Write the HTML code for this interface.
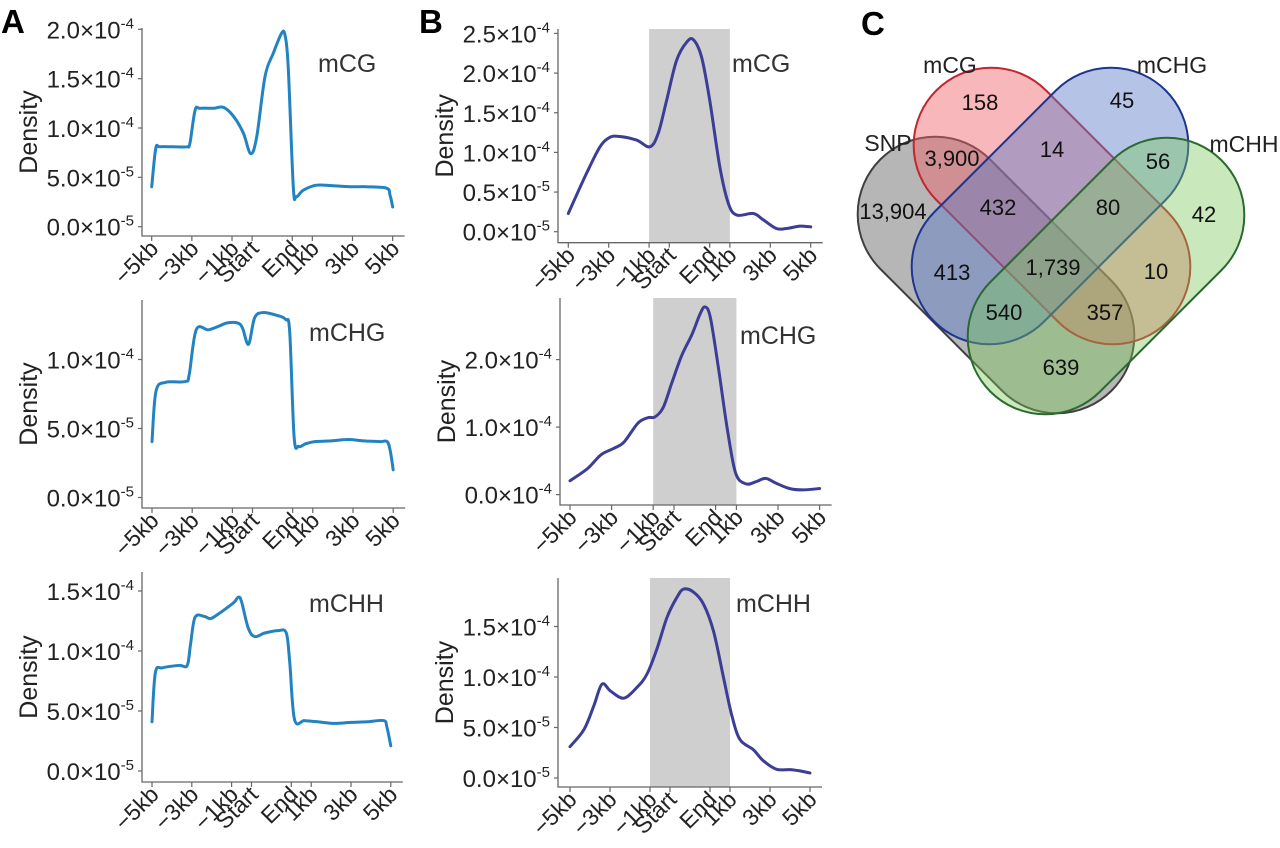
<!DOCTYPE html>
<html><head><meta charset="utf-8"><style>
html,body{margin:0;padding:0;background:#fff;}
svg{display:block;font-family:"Liberation Sans",Arial,sans-serif;}
</style></head><body>
<svg id="fig" width="1280" height="848" viewBox="0 0 1280 848">
<text x="1" y="33" font-size="33" font-weight="bold">A</text>
<text x="419" y="33" font-size="33" font-weight="bold">B</text>
<text x="861" y="35" font-size="33" font-weight="bold">C</text>
<g id="venn"></g>
</svg>
<script>
// ---------- data (x in 20px-units: -5kb=0,-3kb=2,-1kb=4,Start=5,End=7,1kb=8,3kb=10,5kb=12; y in 1e-5) ----------
const xCategories = ["\u22125kb","\u22123kb","\u22121kb","Start","End","1kb","3kb","5kb"];
const xCatPos = [0,2,4,5,7,8,10,12];
const aCG_x = [0,0.2,0.4,1.08,1.74,1.9,2.16,2.4,3.07,3.57,4.07,4.56,4.93,5.23,5.64,6.06,6.47,6.64,6.8,7.05,7.2,7.55,8.2,9.05,9.88,10.7,11.7,11.87,12];
const aCG_y = [4.05,7.9,8.1,8.1,8.1,8.45,11.8,12.0,12.0,12.1,11.2,9.5,7.4,9.1,15.2,17.6,19.6,19.4,16.2,4.05,3.04,3.7,4.2,4.15,4.05,4.05,3.9,3.2,2.0];
const aCHG_x = [0,0.2,0.68,1.65,1.85,2.2,2.8,3.3,3.75,4.25,4.5,4.8,5.1,5.5,6.2,6.65,6.85,7.07,7.3,7.65,8.1,8.9,9.75,10.55,11.35,11.7,11.85,12];
const aCHG_y = [4.05,7.7,8.35,8.4,8.9,12.15,12.15,12.4,12.65,12.65,12.3,11.1,13.0,13.4,13.2,12.9,12.0,4.4,3.7,3.9,4.05,4.1,4.2,4.1,4.05,4.05,3.4,2.0];
const aCHH_x = [0,0.17,0.53,1.36,1.77,1.94,2.16,2.6,2.94,3.35,3.85,4.15,4.35,4.5,4.84,5.17,5.67,6.34,6.75,6.92,7.16,7.66,8.33,9.15,9.98,10.8,11.64,11.8,12];
const aCHH_y = [4.1,8.2,8.6,8.8,8.8,10.6,12.8,12.9,12.7,13.1,13.7,14.1,14.5,14.1,11.9,11.2,11.5,11.7,11.5,9.1,4.3,4.2,4.1,3.97,4.05,4.1,4.2,3.7,2.1];
const bCG_x = [0,0.9,1.57,2.06,2.56,3.38,4.04,4.45,4.87,5.36,5.86,6.2,6.6,7.0,7.5,7.92,8.33,9.16,9.65,10.3,10.8,11.47,12];
const bCG_y = [2.3,7.35,10.7,11.9,12.0,11.55,10.7,12.4,16.6,21.6,23.9,24.2,22.0,16.6,8.2,3.6,2.1,2.3,1.5,0.4,0.4,0.7,0.6];
const bCHG_x = [0,0.84,1.49,2.14,2.6,3.27,3.75,4.08,4.48,4.89,5.37,5.86,6.26,6.5,6.75,7.15,7.56,7.96,8.45,8.93,9.4,9.9,10.55,11.2,12];
const bCHG_y = [2.05,3.85,5.9,6.9,7.8,10.6,11.4,11.5,12.9,16.5,20.6,23.7,26.8,27.8,26.2,18.5,9.8,3.2,1.6,1.9,2.4,1.7,0.9,0.7,0.9];
const bCHH_x = [0,0.7,1.2,1.6,2.03,2.69,3.36,3.85,4.35,4.85,5.35,5.68,6.18,6.68,7.18,7.67,8.09,8.5,9.17,9.67,10.33,11.0,11.5,12];
const bCHH_y = [3.1,4.8,7.2,9.3,8.6,7.9,9.0,10.3,12.8,15.9,17.9,18.7,18.4,17.2,14.5,10.0,6.2,3.8,2.8,1.7,0.86,0.83,0.7,0.5];
const tickA1 = [0,5,10,15,20];  const tickA1Lab = [["0.0","-5"],["5.0","-5"],["1.0","-4"],["1.5","-4"],["2.0","-4"]];
const tickA2 = [0,5,10];        const tickA2Lab = [["0.0","-5"],["5.0","-5"],["1.0","-4"]];
const tickA3 = [0,5,10,15];     const tickA3Lab = [["0.0","-5"],["5.0","-5"],["1.0","-4"],["1.5","-4"]];
const tickB1 = [0,5,10,15,20,25]; const tickB1Lab = [["0.0","-5"],["0.5","-5"],["1.0","-4"],["1.5","-4"],["2.0","-4"],["2.5","-4"]];
const tickB2 = [0,10,20];       const tickB2Lab = [["0.0","-4"],["1.0","-4"],["2.0","-4"]];
const tickB3 = [0,5,10,15];     const tickB3Lab = [["0.0","-5"],["5.0","-5"],["1.0","-4"],["1.5","-4"]];
const vennCounts = ["158","45","14","3,900","56","13,904","432","80","42","413","1,739","10","540","357","639"];
const vennSets = ["SNP","mCG","mCHG","mCHH"];

const NS="http://www.w3.org/2000/svg";
const fig=document.getElementById('fig');
function mk(tag,attrs,parent){const e=document.createElementNS(NS,tag);for(const k in attrs)e.setAttribute(k,attrs[k]);(parent||fig).appendChild(e);return e;}
function smooth(pts){let d="M"+pts[0][0].toFixed(1)+","+pts[0][1].toFixed(1);
 for(let i=0;i<pts.length-1;i++){const p0=pts[i-1]||pts[i],p1=pts[i],p2=pts[i+1],p3=pts[i+2]||p2;
  const c1=[p1[0]+(p2[0]-p0[0])/6,p1[1]+(p2[1]-p0[1])/6],c2=[p2[0]-(p3[0]-p1[0])/6,p2[1]-(p3[1]-p1[1])/6];
  d+="C"+c1.map(v=>v.toFixed(1))+" "+c2.map(v=>v.toFixed(1))+" "+p2.map(v=>v.toFixed(1));}
 return d;}

function panel(o){
 const g=mk('g',{});
 
 
 const X=u=>o.x0+u*o.ux, Y=v=>o.y0-v*o.uy;
 if(o.shade){const r=mk('rect',{x:X(4),y:o.top,width:X(8)-X(4),height:o.axisY-o.top,fill:'#cfcfcf'},g);
  
  }
 const ax=mk('path',{d:`M${o.axX},${o.top}V${o.axisY}H${X(12)+12}`,stroke:'#666',fill:'none','stroke-width':1.3},g);
 
 
 o.ticks.forEach((t,i)=>{const y=Y(t);
  mk('line',{x1:o.axX-4,x2:o.axX,y1:y,y2:y,stroke:'#666','stroke-width':1.2},g);
  const tx=mk('text',{x:o.axX-8,y:y+9,'font-size':24,'text-anchor':'end',fill:'#222'},g);
  
  
  tx.textContent=o.labs[i][0]+"\u00d710";
  const s=mk('tspan',{dy:-10,'font-size':15},tx);s.textContent=o.labs[i][1];});
 xCatPos.forEach((p,i)=>{const x=X(p);
  mk('line',{x1:x,x2:x,y1:o.axisY,y2:o.axisY+5,stroke:'#666','stroke-width':1.2},g);
  const tx=mk('text',{x:x+8,y:o.axisY+14,'font-size':23,'text-anchor':'end',fill:'#222',transform:`rotate(-45 ${x+8} ${o.axisY+14})`},g);
  
  
  tx.textContent=xCategories[i];});
 const yl=mk('text',{x:0,y:0,'font-size':25,'text-anchor':'middle',fill:'#222',transform:`translate(${o.axX-105},${(o.top+o.axisY)/2}) rotate(-90)`},g);
 
 
 yl.textContent="Density";
 const pts=o.xs.map((u,i)=>[X(u),Y(o.ys[i])]);
 const ln=mk('path',{d:smooth(pts),fill:'none',stroke:o.color,'stroke-width':3,'stroke-linejoin':'round','stroke-linecap':'round'},g);
 
 
 const lb=mk('text',{x:o.lx,y:o.ly,'font-size':25,fill:'#333'},g);
 
 
 lb.textContent=o.label;
}
const cA='#2383c1', cB='#3c3d95';
panel({name:'panel-a-mcg',x0:151.7,ux:20.08,y0:226.7,uy:9.87,top:28,axisY:236,axX:142,ticks:tickA1,labs:tickA1Lab,xs:aCG_x,ys:aCG_y,color:cA,label:'mCG',lx:318,ly:72});
panel({name:'panel-a-mchg',x0:152,ux:20.1,y0:497.5,uy:13.8,top:300,axisY:508,axX:142,ticks:tickA2,labs:tickA2Lab,xs:aCHG_x,ys:aCHG_y,color:cA,label:'mCHG',lx:309,ly:341});
panel({name:'panel-a-mchh',x0:152,ux:19.9,y0:771,uy:12.0,top:572,axisY:782,axX:142,ticks:tickA3,labs:tickA3Lab,xs:aCHH_x,ys:aCHH_y,color:cA,label:'mCHH',lx:309,ly:612});
panel({name:'panel-b-mcg',x0:568.3,ux:20.2,y0:231.7,uy:7.93,top:29,axisY:242.7,axX:558,ticks:tickB1,labs:tickB1Lab,xs:bCG_x,ys:bCG_y,color:cB,label:'mCG',lx:732,ly:72,shade:true});
panel({name:'panel-b-mchg',x0:570,ux:20.8,y0:494.6,uy:6.75,top:298,axisY:505,axX:560,ticks:tickB2,labs:tickB2Lab,xs:bCHG_x,ys:bCHG_y,color:cB,label:'mCHG',lx:740,ly:344,shade:true});
panel({name:'panel-b-mchh',x0:570,ux:20,y0:778,uy:10.1,top:578,axisY:787,axX:558,ticks:tickB3,labs:tickB3Lab,xs:bCHH_x,ys:bCHH_y,color:cB,label:'mCHH',lx:736,ly:612,shade:true});

// ---------- Venn ----------
const venn=document.getElementById('venn');
const L=327,W=155;
const shapes=[
 {n:'snp',cx:996,cy:275,rot:45,fill:'rgba(110,110,110,0.5)',st:'#404040'},
 {n:'mcg',cx:1052,cy:206,rot:45,fill:'rgba(240,95,105,0.45)',st:'#c2262e'},
 {n:'mchg',cx:1050,cy:206,rot:-45,fill:'rgba(90,125,200,0.45)',st:'#1e3590'},
 {n:'mchh',cx:1106,cy:276,rot:-45,fill:'rgba(120,200,90,0.4)',st:'#2a6a30'}];
shapes.forEach(s=>{const r=mk('rect',{x:s.cx-L/2,y:s.cy-W/2,width:L,height:W,rx:W/2,ry:W/2,fill:s.fill,stroke:s.st,'stroke-width':2,transform:`rotate(${s.rot} ${s.cx} ${s.cy})`},venn);
 
 });
const setPos=[[888,151],[950,73],[1172,73],[1244,152]];
vennSets.forEach((t,i)=>{const e=mk('text',{x:setPos[i][0],y:setPos[i][1],'font-size':23,'text-anchor':'middle',fill:'#222'},venn);
 
 
 e.textContent=t;});
const cntPos=[[980,110],[1122,108],[1052,157],[952,166],[1158,169],[893,219],[998,215],[1108,215],[1204,222],[952,280],[1053,275],[1156,279],[1004,320],[1105,320],[1061,375]];
vennCounts.forEach((t,i)=>{const e=mk('text',{x:cntPos[i][0],y:cntPos[i][1],'font-size':22,'text-anchor':'middle',fill:'#111'},venn);
 
 
 e.textContent=t;});
</script>
</body></html>
